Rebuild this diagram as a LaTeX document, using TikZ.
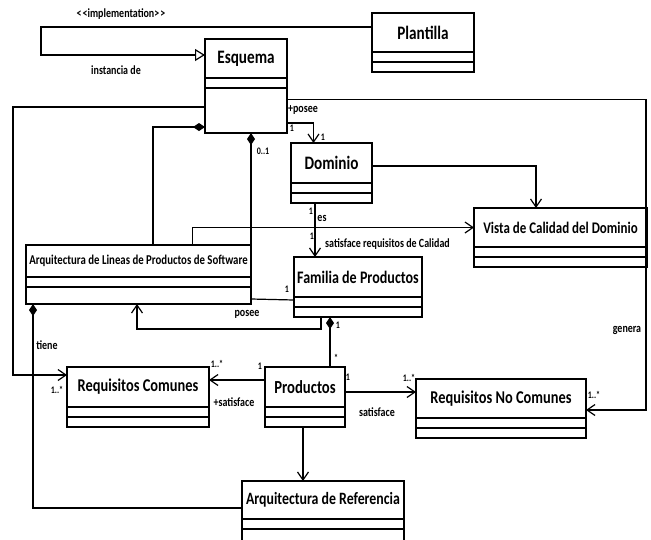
\documentclass[tikz,border=0pt]{standalone}
\usepackage{fontspec}
\setmainfont{Carlito}[FakeStretch=0.8]
\usetikzlibrary{arrows.meta, positioning}
\newcommand\namefont[1]{\bfseries\fontsize{#1}{#1}\selectfont}
\tikzset{
  class name/.style={
    rectangle, draw, line width=1.6pt, minimum width=#1, minimum height=39pt,
    inner sep=0pt, outer sep=0pt, font=\namefont{18}
  },
  class part/.style={
    rectangle, draw, line width=1.6pt, minimum width=#1, minimum height=10pt,
    inner sep=0pt, outer sep=0pt
  },
  arrow/.style={-{Straight Barb[length=8pt, width=11pt, line width=1.2pt]}, line width=1.2pt},
  realize/.style={-{Triangle[open, length=10pt, width=12pt, line width=1.2pt]}, line width=1.2pt},
  comp/.style={{Diamond[length=12pt, width=8pt]}-, line width=1.2pt},
  plain/.style={line width=1.2pt},
  lbl/.style={font=\bfseries\fontsize{12.5}{13}\selectfont, inner sep=0pt},
  mult/.style={font=\bfseries\fontsize{10}{10}\selectfont, inner sep=0pt},
}

\begin{document}
\begin{tikzpicture}[x=1pt, y=-1pt]
  \useasboundingbox (0,0) rectangle (651,539);

  % classes
  \node[class name=82pt, font=\namefont{19}] (esq) at (246,58.5) {Esquema};
  \node[class part=82pt, below=0pt of esq] (esqA) {};
  \node[class part=82pt, minimum height=45pt, below=0pt of esqA] (esqO) {};

  \node[class name=102pt, font=\namefont{19}] (plan) at (423,32.5) {Plantilla};
  \node[class part=102pt, below=0pt of plan] (planA) {};
  \node[class part=102pt, below=0pt of planA] (planO) {};

  \node[class name=81pt, minimum height=40pt, font=\namefont{19}] (dom) at (331.5,163) {Dominio};
  \node[class part=81pt, below=0pt of dom] (domA) {};
  \node[class part=81pt, below=0pt of domA] (domO) {};

  \node[class name=173pt, font=\namefont{16.2}] (vista) at (560.5,227.5) {Vista de Calidad del Dominio};
  \node[class part=173pt, below=0pt of vista] (vistaA) {};
  \node[class part=173pt, below=0pt of vistaA] (vistaO) {};

  \node[class name=225pt, minimum height=32pt, font=\namefont{13.5}] (alps) at (138.5,261)
    {Arquitectura de Lineas de Productos de Software};
  \node[class part=225pt, below=0pt of alps] (alpsA) {};
  \node[class part=225pt, minimum height=17pt, below=0pt of alpsA] (alpsO) {};

  \node[class name=128pt, minimum height=40pt, font=\namefont{17.6}] (fam) at (358,277) {Familia de Productos};
  \node[class part=128pt, below=0pt of fam] (famA) {};
  \node[class part=128pt, below=0pt of famA] (famO) {};

  \node[class name=142pt, minimum height=40pt, font=\namefont{18}] (rc) at (138,387) {Requisitos Comunes};
  \node[class part=142pt, below=0pt of rc] (rcA) {};
  \node[class part=142pt, below=0pt of rcA] (rcO) {};

  \node[class name=80pt, minimum height=40pt, font=\namefont{18.4}] (prod) at (305,387) {Productos};
  \node[class part=80pt, below=0pt of prod] (prodA) {};
  \node[class part=80pt, below=0pt of prodA] (prodO) {};

  \node[class name=170pt, font=\namefont{18}] (rnc) at (501,398.5) {Requisitos No Comunes};
  \node[class part=170pt, below=0pt of rnc] (rncA) {};
  \node[class part=170pt, below=0pt of rncA] (rncO) {};

  \node[class name=162pt, minimum height=38pt, font=\namefont{17.3}] (ar) at (323,500) {Arquitectura de Referencia};
  \node[class part=162pt, below=0pt of ar] (arA) {};
  \node[class part=162pt, minimum height=30pt, below=0pt of arA] (arO) {};

  % connectors
  \draw[realize] ([yshift=5.5pt]plan.west) -- ++(-331,0) |- ([yshift=3.5pt]esq.west);
  \draw[arrow] ([yshift=11pt]esqO.east) -- ++(359,0) |- ([yshift=-11.5pt]rnc.east);
  \draw[arrow] ([yshift=-12.5pt]esqO.east) -| ([xshift=-18pt]dom.north);
  \draw[arrow] ([yshift=3.5pt]esqO.west) -- ++(-192,0) |- ([yshift=12pt]rc.west);
  \draw[comp] ([yshift=-16.5pt]esqO.west) -| ([xshift=14.5pt]alps.north);
  \draw[comp] ([xshift=5pt]esqO.south) -- (alps.north east);
  \draw[arrow] ([xshift=54pt]alps.north) |- (vista.west);
  \draw[arrow] ([yshift=-3pt]dom.east) -| ([xshift=-24.5pt]vista.north);
  \draw[arrow] ([xshift=-16.5pt]domO.south) -- ++(0,54);
  \draw[plain] ([yshift=-3.5pt]alpsO.east) -- ([yshift=2pt]famA.west);
  \draw[arrow] ([xshift=-37pt]famO.south) -- ++(0,12) -| ([xshift=-1.5pt]alpsO.south);
  \draw[comp] ([xshift=-28pt]famO.south) -- ([xshift=25pt]prod.north);
  \draw[arrow] ([yshift=7pt]prod.west) -- ([yshift=7pt]rc.east);
  \draw[arrow] ([yshift=-5pt]prod.east) -- ([yshift=6.5pt]rnc.west);
  \draw[arrow] ([xshift=-2pt]prodO.south) -- ([xshift=-20pt]ar.north);
  \draw[comp] ([xshift=-105.5pt]alpsO.south) |- ([yshift=-8pt]ar.west);

  % labels
  \node[lbl] (impl) at (121,14) {<\kern1pt<implementation>\kern1pt>};
  \node[lbl] (inst) at (116,70) {instancia de};
  \node[lbl] (posee1) at (303,110) {+posee};
  \node[mult] (mEsq1) at (292,128) {1};
  \node[mult] (mDom1) at (323,137) {1};
  \node[mult] (mEsq2) at (263,151) {0..1};
  \node[mult] (mDom2) at (311,211) {1};
  \node[lbl] (es) at (322,218) {es};
  \node[mult] (mFam1) at (312,236) {1};
  \node[lbl, anchor=west] (satReq) at (325,244) {satisface requisitos de Calidad};
  \node[mult] (mFam2) at (287,289) {1};
  \node[lbl] (posee2) at (247,314) {posee};
  \node[mult] (mFam3) at (338,325) {1};
  \node[mult] (mProd1) at (336,358) {*};
  \node[lbl] (tiene) at (47,345) {tiene};
  \node[mult] (mRc1) at (57,390) {1..*};
  \node[mult] (mRc2) at (217,364) {1..*};
  \node[mult] (mProd2) at (260,366) {1};
  \node[lbl] (satis1) at (234,402) {+satisface};
  \node[mult] (mProd3) at (348,377) {1};
  \node[mult] (mRnc1) at (409,378) {1..*};
  \node[lbl] (satis2) at (377,412) {satisface};
  \node[lbl] (genera) at (627,330) {genera};
  \node[mult] (mRnc2) at (594,395) {1..*};
\end{tikzpicture}
\end{document}
